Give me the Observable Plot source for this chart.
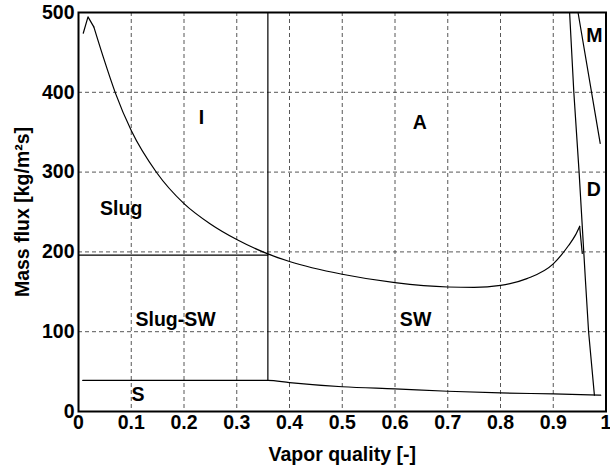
<!DOCTYPE html>
<html>
<head>
<meta charset="utf-8">
<script src="https://cdn.jsdelivr.net/npm/d3@7"></script>
<script src="https://cdn.jsdelivr.net/npm/@observablehq/plot@0.6"></script>
<style>
  html, body { margin: 0; padding: 0; background: #fff; }
</style>
</head>
<body>
<div id="chart"></div>
<script>
// Tick values
const xTicks = [0, 0.1, 0.2, 0.3, 0.4, 0.5, 0.6, 0.7, 0.8, 0.9, 1];
const yTicks = [0, 100, 200, 300, 400, 500];

// Boundary between I/A and Slug/SW (main smooth part)
const upperX = [0.029, 0.047, 0.07, 0.1, 0.148, 0.2, 0.25, 0.3, 0.359, 0.4, 0.5, 0.6, 0.7, 0.75, 0.8, 0.85, 0.9, 0.929, 0.942, 0.95];
const upperY = [482, 444, 399, 352, 299.5, 260.5, 235, 215.5, 197.5, 188, 172, 161.5, 156, 155.5, 158, 166.5, 185, 208, 221, 232];
// Sharp start (left peak)
const startX = [0.009, 0.018, 0.029];
const startY = [474, 494.5, 482];
// Sharp end (right peak down to dryout line)
const endX = [0.95, 0.955];
const endY = [232, 198];

// Dryout boundary (A / D)
const dryX = [0.931, 0.939, 0.949, 0.961, 0.967, 0.978];
const dryY = [500, 400, 300, 164.5, 100, 20.5];

// Mist boundary (D / M)
const mistX = [0.947, 0.989];
const mistY = [500, 336];

// Slug / Slug-SW horizontal boundary
const slugX = [0, 0.359];
const slugY = [196, 196];

// Vertical boundary I / A and Slug-SW / SW
const vertX = [0.359, 0.359];
const vertY = [39, 500];

// Stratified boundary
const stratX = [0.008, 0.359, 0.4, 0.5, 0.6, 0.7, 0.8, 0.9, 0.99];
const stratY = [39, 39, 36.2, 31, 28.3, 25.4, 23.3, 22, 20.5];

// Region labels
const labelText = ["I", "A", "Slug", "Slug-SW", "S", "SW", "M", "D"];
const labelX = [0.233, 0.647, 0.081, 0.184, 0.113, 0.639, 0.978, 0.977];
const labelY = [368, 362, 254, 114.7, 20.5, 114.7, 470.6, 278];

const toPts = (xs, ys) => xs.map((x, i) => ({x, y: ys[i]}));
const labels = labelText.map((t, i) => ({t, x: labelX[i], y: labelY[i]}));

const FS = 19.5;
const lineStyle = {x: "x", y: "y", stroke: "#000", strokeWidth: 1.2};
const gridStyle = {stroke: "#444", strokeWidth: 0.9, strokeDasharray: "4,3", strokeOpacity: 1};

const chart = Plot.plot({
  width: 610,
  height: 471,
  marginLeft: 78,
  marginRight: 4.5,
  marginTop: 12,
  marginBottom: 60,
  style: {fontFamily: "'Liberation Sans', Arial, sans-serif", fontWeight: "bold", fontSize: "19.5px", background: "#fff", overflow: "visible"},
  x: {domain: [0, 1]},
  y: {domain: [0, 500]},
  marks: [
    Plot.ruleX(xTicks.slice(1, -1), gridStyle),
    Plot.ruleY(yTicks.slice(1, -1), gridStyle),
    Plot.axisX({ticks: xTicks, tickSize: 0, tickPadding: 4, label: null, fontSize: FS, fill: "#000",
      tickFormat: d => (d === 0 || d === 1) ? String(d) : d.toFixed(1)}),
    Plot.axisY({ticks: yTicks, tickSize: 0, tickPadding: 4, label: null, fontSize: FS, fill: "#000", tickFormat: d => String(d)}),
    Plot.line(toPts(startX, startY), {...lineStyle, curve: "linear"}),
    Plot.line(toPts(upperX, upperY), {...lineStyle, curve: "monotone-x"}),
    Plot.line(toPts(endX, endY), {...lineStyle, curve: "linear"}),
    Plot.line(toPts(dryX, dryY), {...lineStyle, curve: "linear"}),
    Plot.line(toPts(mistX, mistY), {...lineStyle, curve: "linear"}),
    Plot.line(toPts(slugX, slugY), {...lineStyle}),
    Plot.line(toPts(vertX, vertY), {...lineStyle}),
    Plot.line(toPts(stratX, stratY), {...lineStyle, curve: "monotone-x"}),
    Plot.text(labels, {x: "x", y: "y", text: "t", textAnchor: "middle", fill: "#000", fontSize: FS}),
    Plot.text(["Vapor quality [-]"], {frameAnchor: "bottom", textAnchor: "middle", dy: 49, fill: "#000", fontSize: FS}),
    Plot.text(["Mass flux [kg/m²s]"], {frameAnchor: "left", textAnchor: "middle", dx: -56, rotate: -90, fill: "#000", fontSize: FS}),
    Plot.frame({stroke: "#000", strokeWidth: 2})
  ]
});
document.getElementById("chart").appendChild(chart);
</script>
</body>
</html>
